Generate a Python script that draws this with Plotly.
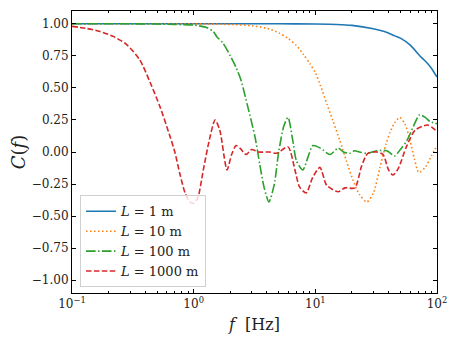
import plotly.graph_objects as go

# frequencies [Hz] and coherence values
f_1m = [0.1, 1, 5, 10, 15, 20, 30, 37, 45, 50, 60, 74, 80, 89, 100]
c_1m = [1.0, 1.0, 1.0, 0.998, 0.995, 0.988, 0.962, 0.94, 0.906, 0.888, 0.835, 0.74, 0.71, 0.66, 0.585]

f_10m = [0.1, 1, 2, 3, 4, 5, 6, 7, 8, 9, 10, 11, 12.5, 14, 15.9, 18, 20.4, 23, 26.5, 30,
         34, 38, 41, 45, 49.5, 55, 60, 65, 71, 80, 90, 100]
c_10m = [1.0, 1.0, 0.995, 0.985, 0.965, 0.93, 0.885, 0.83, 0.76, 0.69, 0.62, 0.52, 0.37, 0.24, 0.09, -0.07,
         -0.22, -0.33, -0.39, -0.32, -0.12, 0.06, 0.15, 0.23, 0.27, 0.21, 0.09, -0.05, -0.16, -0.12, -0.03, 0.05]

f_100m = [0.1, 0.3, 0.5, 0.7, 1.0, 1.29, 1.45, 1.55, 1.74, 2.0, 2.23, 2.45, 2.79, 3.19, 3.5, 3.8, 4.16,
          4.6, 5.0, 5.5, 5.96, 6.5, 7.0, 7.9, 8.7, 9.55, 11, 13.2, 15.4, 17, 19.2, 21, 23, 26.5, 32,
          38.7, 45, 50, 56.6, 64, 72, 80, 87, 100]
c_100m = [1.0, 1.0, 0.998, 0.995, 0.99, 0.97, 0.94, 0.9, 0.85, 0.75, 0.66, 0.56, 0.35, 0.12, -0.1, -0.28, -0.39,
          -0.25, 0.0, 0.2, 0.27, 0.1, -0.07, -0.14, -0.04, 0.05, 0.03, -0.02, 0.03, 0.0, -0.01, 0.01, 0.0, -0.01, 0.01,
          0.01, -0.03, 0.02, 0.09, 0.2, 0.29, 0.27, 0.24, 0.22]

f_1000m = [0.1, 0.13, 0.17, 0.22, 0.28, 0.36, 0.44, 0.53, 0.64, 0.7, 0.77, 0.85, 0.93, 1.0, 1.08, 1.2, 1.35,
           1.5, 1.64, 1.88, 2.05, 2.23, 2.4, 2.7, 3.0, 3.4, 4.2, 4.8, 5.96, 6.8, 7.4, 8.4, 9.5, 10.9, 12.4,
           15.4, 17.5, 21.1, 24, 27, 32, 36, 40, 43.5, 48, 56, 66, 84, 100]
c_1000m = [0.98, 0.965, 0.94, 0.9, 0.84, 0.72, 0.54, 0.35, 0.12, 0.0, -0.17, -0.32, -0.39, -0.4, -0.36, -0.14, 0.1,
           0.25, 0.17, -0.14, -0.02, 0.05, 0.03, -0.02, 0.02, 0.0, 0.0, -0.01, 0.04, -0.14, -0.27, -0.32, -0.2, -0.12,
           -0.26, -0.31, -0.28, -0.28, -0.11, -0.01, 0.0, -0.02, -0.14, -0.18, -0.13, 0.04, 0.17, 0.21, 0.16]

series = [
    (f_1m, c_1m, "<i>L</i> = 1 m", "#1f77b4", "solid"),
    (f_10m, c_10m, "<i>L</i> = 10 m", "#ff7f0e", "1.5px,2.5px"),
    (f_100m, c_100m, "<i>L</i> = 100 m", "#2ca02c", "9.6px,2.4px,1.5px,2.4px"),
    (f_1000m, c_1000m, "<i>L</i> = 1000 m", "#d62728", "5.5px,2.4px"),
]

y_ticks = [-1.0, -0.75, -0.5, -0.25, 0.0, 0.25, 0.5, 0.75, 1.0]
y_labels = [("%.2f" % v).replace("-", "\u2212") for v in y_ticks]
x_ticks = [0.1, 1, 10, 100]
x_labels = ["10<sup>\u22121</sup>", "10<sup>0</sup>", "10<sup>1</sup>", "10<sup>2</sup>"]
minor_x = [m * 10 ** e for e in (-1, 0, 1) for m in range(2, 10)]

fig = go.Figure()
for f, c, name, color, dash in series:
    fig.add_trace(go.Scatter(x=f, y=c, name=name, mode="lines",
                             line=dict(color=color, width=1.6, dash=dash, shape="spline", smoothing=0.7)))

font = "DejaVu Serif, Liberation Serif, serif"
fig.update_xaxes(type="log", range=[-1, 2], tickvals=x_ticks, ticktext=x_labels, automargin=False,
                 ticks="inside", ticklen=4, tickwidth=1, tickcolor="black",
                 minor=dict(tickvals=minor_x, ticks="inside", ticklen=2, tickcolor="black"),
                 showline=True, linecolor="black", linewidth=1, mirror="allticks",
                 showgrid=False, zeroline=False,
                 tickfont=dict(family=font, size=12, color="#222"),
                 title=dict(text="<i>f</i>  [Hz]", font=dict(family=font, size=16, color="#222"), standoff=8))
fig.update_yaxes(range=[-1.1, 1.1], tickvals=y_ticks, ticktext=y_labels, automargin=False,
                 ticks="inside", ticklen=4, tickwidth=1, tickcolor="black",
                 showline=True, linecolor="black", linewidth=1, mirror="allticks",
                 showgrid=False, zeroline=False,
                 tickfont=dict(family=font, size=12, color="#222"),
                 title=dict(text="<i>C</i>(<i>f</i>)", font=dict(family=font, size=18, color="#222"), standoff=12))
# page body has an 8px margin, so the figure is shrunk to fit the 457x343 window
fig.update_layout(width=449, height=335, margin=dict(l=64, r=20, t=3, b=50),
                  plot_bgcolor="white", paper_bgcolor="white",
                  legend=dict(x=0.022, y=0.02, xanchor="left", yanchor="bottom",
                              bgcolor="rgba(255,255,255,0.8)", bordercolor="#d0d0d0", borderwidth=1,
                              font=dict(family=font, size=13, color="#222")))

fig.write_html("out.html")
